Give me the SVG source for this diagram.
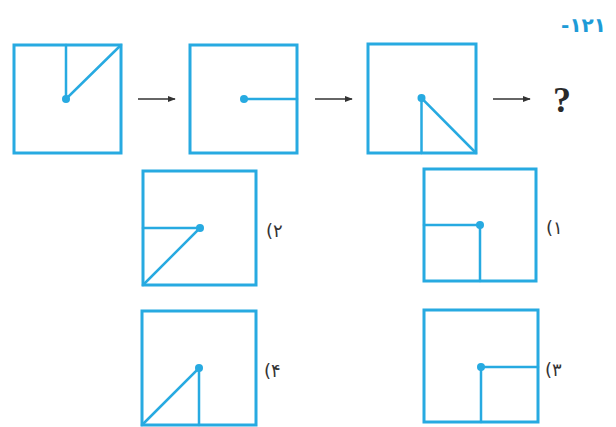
<svg xmlns="http://www.w3.org/2000/svg" width="616" height="427" viewBox="0 0 616 427">
<defs>
<style>
.sq{fill:none;stroke:#27aae1;stroke-width:3}
.ln{fill:none;stroke:#27aae1;stroke-width:2.5;stroke-linecap:round}
.dot{fill:#27aae1}
.ar{fill:none;stroke:#333;stroke-width:1.5}
.lbl{font-family:"DejaVu Sans","Noto Sans",sans-serif;font-size:18px;fill:#333}
</style>
<marker id="ah" viewBox="0 0 10 10" refX="9" refY="5" markerWidth="8" markerHeight="8" markerUnits="userSpaceOnUse" orient="auto">
<path d="M0,1 L10,5 L0,9 Z" fill="#333"/>
</marker>
</defs>
<rect width="616" height="427" fill="#fff"/>
<text x="606" y="32" text-anchor="end" direction="ltr" style="font-family:'DejaVu Sans',sans-serif;font-size:20px;font-weight:bold;fill:#1e9bd7">-۱۲۱</text>

<g id="seq1">
<rect class="sq" x="14" y="45" width="107" height="108"/>
<polyline class="ln" points="66,45 66,99 121,45"/>
<circle class="dot" cx="66" cy="99" r="4"/>
</g>
<g id="seq2">
<rect class="sq" x="190" y="45" width="107" height="108"/>
<line class="ln" x1="244" y1="99" x2="297" y2="99"/>
<circle class="dot" cx="244" cy="99" r="4"/>
</g>
<g id="seq3">
<rect class="sq" x="368" y="44" width="108" height="109"/>
<polyline class="ln" points="421.5,153 421.5,98 476,153"/>
<circle class="dot" cx="421.5" cy="98" r="4"/>
</g>
<g id="question">
<text x="562" y="112" text-anchor="middle" style="font-family:'Liberation Serif',serif;font-size:36px;font-weight:bold;fill:#2a2a2a">?</text>
</g>

<g id="connectors">
<line class="ar" x1="138" y1="99" x2="175" y2="99" marker-end="url(#ah)"/>
<line class="ar" x1="315" y1="99" x2="352" y2="99" marker-end="url(#ah)"/>
<line class="ar" x1="493" y1="99" x2="530" y2="99" marker-end="url(#ah)"/>
</g>

<g id="opt1">
<rect class="sq" x="424" y="169" width="112" height="112"/>
<polyline class="ln" points="424,225 480,225 480,281"/>
<circle class="dot" cx="480" cy="225" r="4"/>
<text class="lbl" x="546" y="234" direction="ltr">(۱</text>
</g>
<g id="opt2">
<rect class="sq" x="143" y="171" width="113" height="114"/>
<polyline class="ln" points="143,228 200,228 143,285"/>
<circle class="dot" cx="200" cy="228" r="4"/>
<text class="lbl" x="266" y="237" direction="ltr">(۲</text>
</g>
<g id="opt3">
<rect class="sq" x="424" y="310" width="114" height="112"/>
<polyline class="ln" points="538,367 481,367 481,422"/>
<circle class="dot" cx="481" cy="367" r="4"/>
<text class="lbl" x="545" y="376" direction="ltr">(۳</text>
</g>
<g id="opt4">
<rect class="sq" x="142" y="311" width="114" height="114"/>
<polyline class="ln" points="142,425 199,368 199,425"/>
<circle class="dot" cx="199" cy="368" r="4"/>
<text class="lbl" x="264" y="377" direction="ltr">(۴</text>
</g>
</svg>
